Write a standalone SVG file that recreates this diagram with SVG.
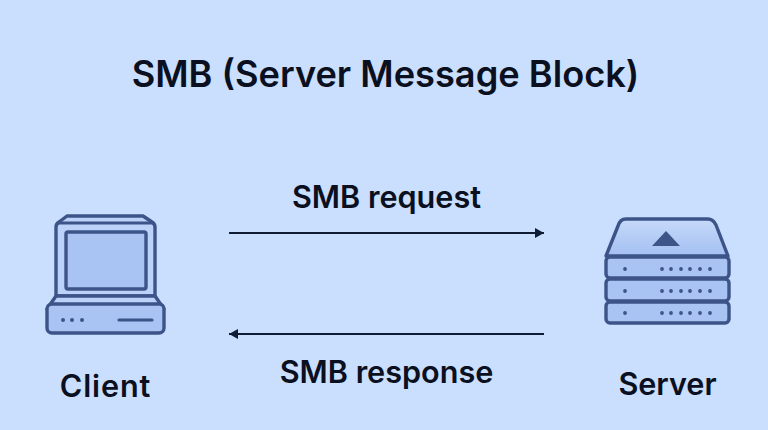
<svg xmlns="http://www.w3.org/2000/svg" width="768" height="430" viewBox="0 0 768 430">
<defs>
<linearGradient id="pale" x1="0" y1="0" x2="0" y2="1"><stop offset="0" stop-color="#c6daf9"/><stop offset="1" stop-color="#a3bff2"/></linearGradient>
<marker id="arrow" markerUnits="userSpaceOnUse" markerWidth="10" markerHeight="12" refX="9" refY="5" orient="auto-start-reverse"><path d="M0 0L9 5L0 10Z" fill="#101c33"/></marker>
</defs>
<style>
text{font-family:"Inter","Liberation Sans",sans-serif;font-weight:600;fill:#0a1020;text-anchor:middle}
.lbl{font-size:30.6px}
.ico{stroke:#3d5489;stroke-width:3.4;stroke-linejoin:round;fill:#a9c3f3}
.lite{fill:#bdd2f8}
.grad{fill:url(#pale)}
.dot{fill:#3d5489}
.c{stroke:#101c33;stroke-width:1.9;fill:none}
</style>
<rect width="768" height="430" fill="#cadefd"/>
<text id="title" x="385.500" y="87" font-size="36.200">SMB (Server Message Block)</text>
<g id="connectors">
<line class="c" x1="229" y1="233" x2="544" y2="233" marker-end="url(#arrow)"/>
<line class="c" x1="544" y1="334" x2="229" y2="334" marker-end="url(#arrow)"/>
</g>
<text x="386.500" y="207.500" class="lbl">SMB request</text>
<text x="386.500" y="383" class="lbl">SMB response</text>
<g id="client">
<path class="ico lite" d="M56 227Q56 224 59 222L67 216H143L152 222Q155 224 155 227V296H56Z"/>
<path d="M58 223H153" stroke="#3d5489" stroke-width="3" fill="none"/>
<rect x="66" y="232" width="80" height="57" rx="2" class="ico"/>
<path class="ico lite" d="M56 296L47 309H164L155 296Z"/>
<rect x="47" y="304" width="117" height="29" rx="5" class="ico"/>
<circle class="dot" cx="63" cy="320" r="2"/><circle class="dot" cx="72" cy="320" r="2"/><circle class="dot" cx="82" cy="320" r="2"/>
<path d="M119 320H152" stroke="#3d5489" stroke-width="3.200" stroke-linecap="round"/>
<text x="105.500" y="396.500" class="lbl" letter-spacing="0.900">Client</text>
</g>
<g id="server">
<path class="ico grad" d="M606 256L618 226Q620 219 626 219H708Q713 219 716 225L728 256Z"/>
<path class="dot" d="M652 246L666 231L680 246Z"/>
<rect x="606" y="257" width="123" height="21" rx="4" class="ico"/>
<rect x="606" y="279" width="123" height="22" rx="4" class="ico"/>
<rect x="606" y="302" width="123" height="21" rx="4" class="ico"/>
<g class="dot">
<circle cx="625" cy="269" r="1.900"/><circle cx="662" cy="269" r="1.900"/><circle cx="671" cy="269" r="1.900"/><circle cx="681" cy="269" r="1.900"/><circle cx="690" cy="269" r="1.900"/><circle cx="700" cy="269" r="1.900"/><circle cx="710" cy="269" r="1.900"/>
<circle cx="625" cy="291" r="1.900"/><circle cx="662" cy="291" r="1.900"/><circle cx="671" cy="291" r="1.900"/><circle cx="681" cy="291" r="1.900"/><circle cx="690" cy="291" r="1.900"/><circle cx="700" cy="291" r="1.900"/><circle cx="710" cy="291" r="1.900"/>
<circle cx="625" cy="313" r="1.900"/><circle cx="662" cy="313" r="1.900"/><circle cx="671" cy="313" r="1.900"/><circle cx="681" cy="313" r="1.900"/><circle cx="690" cy="313" r="1.900"/><circle cx="700" cy="313" r="1.900"/><circle cx="710" cy="313" r="1.900"/>
</g>
<text x="667.500" y="394.500" class="lbl">Server</text>
</g>
</svg>
